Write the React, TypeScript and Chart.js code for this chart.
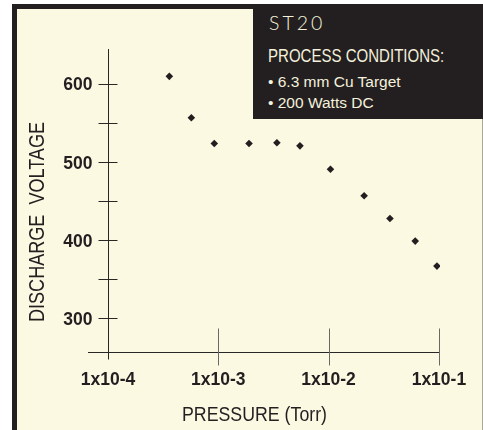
import React, { useEffect, useRef } from 'react';
import { Chart, registerables } from 'chart.js';

Chart.register(...registerables);

// ---- data ----
const pressureTorr = [3.6e-4, 5.7e-4, 9.2e-4, 1.9e-3, 3.4e-3, 5.5e-3, 1.04e-2, 2.1e-2, 3.6e-2, 6.1e-2, 9.6e-2];
const dischargeVoltage = [610, 557, 524, 524, 525, 521, 491, 457, 428, 399, 367];
const xTickValues = [1e-4, 1e-3, 1e-2, 1e-1];
const xTickLabels = ['1x10-4', '1x10-3', '1x10-2', '1x10-1'];
const yTickValues = [300, 400, 500, 600];
const yTickLabels = ['300', '400', '500', '600'];
const yMinorTickValues = [350, 450, 550];
const xAxisTitle = 'PRESSURE (Torr)';
const yAxisTitle = 'DISCHARGE  VOLTAGE';
const boxTitle = 'ST20';
const boxHeading = 'PROCESS CONDITIONS:';
const boxConditions = ['6.3 mm Cu Target', '200 Watts DC'];

// ---- scale ranges ----
const X_MIN = Math.pow(10, -4.181);
const X_MAX = Math.pow(10, -0.99);
const Y_MIN = 257;
const Y_MAX = 645;

// ---- styles ----
const INK = '#231F20';
const CREAM = '#FBF9E2';
const SANS = '"Liberation Sans", Arial, Helvetica, sans-serif';

const axesPlugin = {
  id: 'st20Axes',
  beforeDatasetsDraw(chart: any) {
    const { ctx, chartArea, scales } = chart;
    const xs = scales.x;
    const ys = scales.y;
    const crisp = (v: number) => Math.round(v) + 0.5;
    const ax = crisp(xs.getPixelForValue(xTickValues[0]));
    const ay = crisp(ys.getPixelForValue(Y_MIN));
    ctx.save();
    ctx.lineWidth = 1;
    ctx.strokeStyle = '#2a2727';
    ctx.beginPath();
    ctx.moveTo(chartArea.left, ay);
    ctx.lineTo(chartArea.right, ay);
    ctx.moveTo(ax, chartArea.top);
    ctx.lineTo(ax, ay + 7);
    [...yTickValues, ...yMinorTickValues].forEach((v) => {
      const py = crisp(ys.getPixelForValue(v));
      ctx.moveTo(ax - 10, py);
      ctx.lineTo(ax + 9, py);
    });
    ctx.stroke();

    ctx.strokeStyle = '#6a6868';
    ctx.beginPath();
    xTickValues.slice(1).forEach((v) => {
      const px = crisp(xs.getPixelForValue(v));
      ctx.moveTo(px, ay - 24);
      ctx.lineTo(px, ay + 13);
    });
    ctx.stroke();

    ctx.fillStyle = INK;
    ctx.font = 'bold 17.5px ' + SANS;
    ctx.textBaseline = 'alphabetic';
    ctx.textAlign = 'right';
    yTickValues.forEach((v, i) => {
      ctx.fillText(yTickLabels[i], ax - 16, ys.getPixelForValue(v) + 6.3);
    });
    ctx.textAlign = 'center';
    xTickValues.forEach((v, i) => {
      ctx.fillText(xTickLabels[i], xs.getPixelForValue(v), ay + 32);
    });

    // axis titles (condensed look via maxWidth)
    ctx.font = '19.5px ' + SANS;
    ctx.textAlign = 'center';
    ctx.fillText(xAxisTitle, (chartArea.left + chartArea.right) / 2 - 9.5, ay + 68, 145);

    ctx.save();
    ctx.font = '22px ' + SANS;
    ctx.translate(chartArea.left - 52.5, (chartArea.top + chartArea.bottom) / 2 + 21.5);
    ctx.rotate(-Math.PI / 2);
    ctx.textAlign = 'center';
    ctx.fillText(yAxisTitle, 0, 8, 200);
    ctx.restore();

    ctx.restore();
  },
};

export default function App() {
  const canvasRef = useRef<HTMLCanvasElement | null>(null);

  useEffect(() => {
    document.body.style.margin = '0';
    const canvas = canvasRef.current;
    if (!canvas) return;
    const chart = new Chart(canvas, {
      type: 'scatter',
      data: {
        datasets: [
          {
            label: 'Discharge voltage',
            data: pressureTorr.map((p, i) => ({ x: p, y: dischargeVoltage[i] })),
            pointStyle: 'rectRot',
            pointRadius: 3.8,
            pointBackgroundColor: INK,
            pointBorderWidth: 0,
            showLine: false,
          },
        ],
      },
      options: {
        animation: false,
        responsive: false,
        devicePixelRatio: 1,
        events: [],
        layout: { padding: { left: 88, right: 43, top: 49, bottom: 78 } },
        plugins: { legend: { display: false }, tooltip: { enabled: false } },
        scales: {
          x: { type: 'logarithmic', min: X_MIN, max: X_MAX, display: false },
          y: { type: 'linear', min: Y_MIN, max: Y_MAX, display: false },
        },
      },
      plugins: [axesPlugin],
    });
    return () => chart.destroy();
  }, []);

  return (
    <div style={{ position: 'fixed', left: 0, top: 0, width: 483, height: 430, background: '#ffffff', overflow: 'hidden' }}>
      <div
        style={{
          position: 'absolute',
          left: 12,
          top: 4,
          width: 471,
          height: 426,
          boxSizing: 'border-box',
          background: CREAM,
          borderLeft: '5px solid ' + INK,
          borderTop: '5px solid ' + INK,
          borderRight: '1px solid #a8a79a',
        }}
      />
      <canvas ref={canvasRef} width={483} height={430} style={{ position: 'absolute', left: 0, top: 0 }} />
      <div
        style={{
          position: 'absolute',
          left: 253,
          top: 4,
          width: 230,
          height: 115,
          background: INK,
          color: '#F4F1DC',
        }}
      >
        <div
          style={{
            position: 'absolute',
            left: 16,
            top: 9.4,
            fontFamily: 'Lato, "Open Sans", sans-serif',
            fontWeight: 300,
            fontSize: 19.5,
            lineHeight: '19.5px',
            letterSpacing: 3,
            whiteSpace: 'nowrap',
          }}
        >
          {boxTitle}
        </div>
        <div
          style={{
            position: 'absolute',
            left: 15,
            top: 43.7,
            fontFamily: SANS,
            fontSize: 17.7,
            lineHeight: '17.7px',
            whiteSpace: 'nowrap',
            transform: 'scaleX(0.85)',
            transformOrigin: 'left center',
          }}
        >
          {boxHeading}
        </div>
        {boxConditions.map((t, i) => (
          <div
            key={t}
            style={{
              position: 'absolute',
              left: 15,
              top: 69.6 + i * 21,
              fontFamily: SANS,
              fontSize: 15.5,
              lineHeight: '15.5px',
              whiteSpace: 'nowrap',
            }}
          >
            {'\u2022 ' + t}
          </div>
        ))}
      </div>
    </div>
  );
}
